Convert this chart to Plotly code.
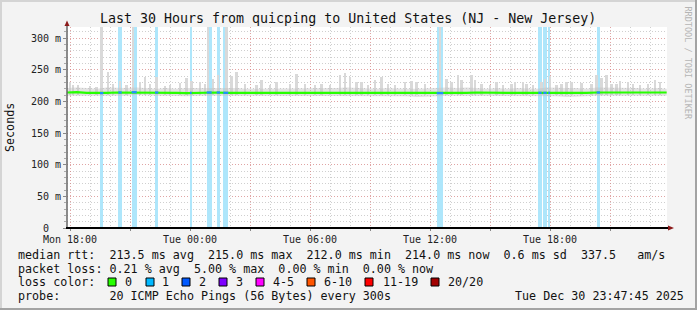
import plotly.graph_objects as go
import pandas as pd

# ---------------- data ----------------
title = "Last 30 Hours from quicping to United States (NJ - New Jersey)"
x_start = "2025-12-29 17:51"
x_end = "2025-12-30 23:51"
y_max = 317.5

y_tickvals = [0, 50, 100, 150, 200, 250, 300]
y_ticktext = ["0\u00a0\u00a0", "50 m", "100 m", "150 m", "200 m", "250 m", "300 m"]

x_tickvals = ["2025-12-29 18:00", "2025-12-29 21:00", "2025-12-30 00:00", "2025-12-30 03:00",
              "2025-12-30 06:00", "2025-12-30 09:00", "2025-12-30 12:00", "2025-12-30 15:00",
              "2025-12-30 18:00", "2025-12-30 21:00"]
x_ticktext = ["Mon 18:00", "", "Tue 00:00", "", "Tue 06:00", "", "Tue 12:00", "", "Tue 18:00", ""]

# median RTT (ms), one reading every 30 minutes from 17:50
median_time = pd.date_range("2025-12-29 17:50", periods=61, freq="30min")
median_rtt = [214, 214.5, 213.5, 213, 213.5, 214, 214, 214.5, 214, 214, 213.5, 213.5, 213,
              213.5, 214, 214, 213.5, 213.5, 213, 213, 213.5, 213.5, 213.5, 213, 213.5, 213.5,
              213.5, 213, 213.5, 213.5, 213.5, 213, 213.5, 213, 213, 212.5, 212.5, 213, 213.5,
              213.5, 213.5, 214, 213.5, 213.5, 213.5, 213.5, 213.5, 213.5, 213.5, 213, 212.5,
              213, 213.5, 214, 214, 214, 214, 213.5, 214, 214, 214]
haze_hi = [221, 222, 221, 220, 222, 221, 221, 222, 221, 220, 221, 220, 221,
           221, 222, 222, 221, 221, 220, 220, 221, 221, 220, 221, 221, 220,
           220, 221, 222, 221, 221, 220, 221, 220, 220, 220, 221, 222, 222,
           221, 222, 221, 220, 221, 220, 221, 221, 220, 222, 221, 221,
           221, 220, 222, 222, 221, 221, 221, 220, 221, 220]
haze_lo = [209, 209, 208, 208, 209, 209, 209, 210, 209, 209, 209, 208, 208,
           209, 209, 209, 209, 208, 208, 209, 209, 209, 208, 208, 209, 209,
           209, 209, 209, 209, 209, 208, 209, 208, 208, 207, 207, 208, 209,
           209, 209, 209, 209, 209, 209, 209, 209, 209, 209, 208, 207,
           208, 209, 209, 209, 209, 209, 209, 209, 209, 209]

# smoke spikes (individual ping maxima, ms)
smoke_floor = 210
smoke_time = ["2025-12-29 18:00", "2025-12-29 18:10", "2025-12-29 18:25", "2025-12-29 19:00",
              "2025-12-29 19:20", "2025-12-29 19:35", "2025-12-29 19:55", "2025-12-29 20:10",
              "2025-12-29 20:30", "2025-12-29 20:50", "2025-12-29 21:10", "2025-12-29 21:30",
              "2025-12-29 21:45", "2025-12-29 22:00", "2025-12-29 22:20", "2025-12-29 22:45",
              "2025-12-29 23:00", "2025-12-29 23:30", "2025-12-29 23:50", "2025-12-30 00:05",
              "2025-12-30 00:30", "2025-12-30 00:45", "2025-12-30 00:55", "2025-12-30 01:10",
              "2025-12-30 01:25", "2025-12-30 01:50", "2025-12-30 02:05", "2025-12-30 02:20",
              "2025-12-30 02:45", "2025-12-30 03:20", "2025-12-30 03:35", "2025-12-30 04:00",
              "2025-12-30 04:20", "2025-12-30 05:00", "2025-12-30 05:20", "2025-12-30 05:45",
              "2025-12-30 06:15", "2025-12-30 06:35", "2025-12-30 07:00", "2025-12-30 07:30",
              "2025-12-30 07:45", "2025-12-30 08:00", "2025-12-30 08:20", "2025-12-30 08:35",
              "2025-12-30 08:55", "2025-12-30 09:15", "2025-12-30 09:35", "2025-12-30 09:55",
              "2025-12-30 10:15", "2025-12-30 10:45", "2025-12-30 11:05", "2025-12-30 11:20",
              "2025-12-30 11:45", "2025-12-30 12:30", "2025-12-30 12:50", "2025-12-30 13:05",
              "2025-12-30 13:25", "2025-12-30 13:35", "2025-12-30 14:05", "2025-12-30 14:15",
              "2025-12-30 14:35", "2025-12-30 15:00", "2025-12-30 15:20", "2025-12-30 15:40",
              "2025-12-30 16:05", "2025-12-30 16:15", "2025-12-30 16:40", "2025-12-30 16:50",
              "2025-12-30 17:10", "2025-12-30 17:35", "2025-12-30 17:45", "2025-12-30 18:00",
              "2025-12-30 18:20", "2025-12-30 18:35", "2025-12-30 18:50", "2025-12-30 19:05",
              "2025-12-30 19:35", "2025-12-30 20:05", "2025-12-30 20:20", "2025-12-30 20:35",
              "2025-12-30 20:50", "2025-12-30 21:05", "2025-12-30 21:20", "2025-12-30 21:30",
              "2025-12-30 21:55", "2025-12-30 22:10", "2025-12-30 22:30", "2025-12-30 22:55",
              "2025-12-30 23:15", "2025-12-30 23:30"]
smoke_top = [230, 226, 226, 224, 222, 317, 246, 228, 232, 226, 317, 230,
             238, 228, 238, 224, 226, 229, 237, 232, 230, 228, 317, 236,
             242, 317, 240, 246, 228, 226, 234, 226, 231, 228, 243, 227,
             226, 228, 226, 242, 245, 238, 230, 231, 226, 234, 238, 228,
             226, 230, 232, 231, 227, 317, 236, 231, 242, 234, 242, 234,
             228, 226, 230, 226, 228, 230, 231, 228, 226, 230, 235, 240,
             226, 228, 230, 230, 229, 228, 241, 237, 242, 228, 228, 232,
             231, 228, 226, 228, 234, 230]

# packet-loss intervals (1 of 20 pings lost)
loss_start = ["2025-12-29 19:30", "2025-12-29 20:25", "2025-12-29 21:05", "2025-12-29 22:15",
              "2025-12-30 00:00", "2025-12-30 00:50", "2025-12-30 01:20", "2025-12-30 01:40",
              "2025-12-30 12:20", "2025-12-30 17:25", "2025-12-30 17:40", "2025-12-30 17:55",
              "2025-12-30 20:20"]
loss_end = ["2025-12-29 19:40", "2025-12-29 20:35", "2025-12-29 21:20", "2025-12-29 22:25",
            "2025-12-30 00:05", "2025-12-30 01:05", "2025-12-30 01:30", "2025-12-30 01:55",
            "2025-12-30 12:40", "2025-12-30 17:35", "2025-12-30 17:50", "2025-12-30 18:00",
            "2025-12-30 20:30"]
loss_median = [213, 214, 214.5, 214, 213.5, 214, 214, 213.5, 213, 213.5, 213.5, 213.5, 214]

loss_labels = ["0", "1", "2", "3", "4-5", "6-10", "11-19", "20/20"]
loss_colors = ["#26ff00", "#00b8ff", "#0059ff", "#7e00ff", "#ff00ff", "#ff5500", "#ff0000", "#a10000"]

legend_rtt = "median rtt:  213.5 ms avg  215.0 ms max  212.0 ms min  214.0 ms now  0.6 ms sd  337.5   am/s"
legend_loss = "packet loss: 0.21 % avg  5.00 % max  0.00 % min  0.00 % now"
legend_probe = "probe:       20 ICMP Echo Pings (56 Bytes) every 300s"
legend_date = "Tue Dec 30 23:47:45 2025"

# ---------------- layout helpers ----------------
W, H = 697, 310
L, R, T, B = 67, 30, 27, 82
PW, PH = W - L - R, H - T - B
MONO = "DejaVu Sans Mono"


def px(x):
    return (x - L) / PW


def py(y):
    return (H - B - y) / PH


fig = go.Figure()

# loss bands (full height)
ls = pd.to_datetime(loss_start)
le = pd.to_datetime(loss_end)
mid = ls + (le - ls) / 2
widths = [(b - a).total_seconds() * 1000 for a, b in zip(ls, le)]
fig.add_trace(go.Bar(x=mid, y=[y_max] * len(mid), width=widths, base=0,
                     marker=dict(color="#aee6fb", line=dict(width=0)), hoverinfo="skip"))

# haze
fig.add_trace(go.Scatter(x=median_time, y=haze_lo, mode="lines", line=dict(width=0),
                         hoverinfo="skip"))
fig.add_trace(go.Scatter(x=median_time, y=haze_hi, mode="lines", line=dict(width=0),
                         fill="tonexty", fillcolor="rgba(190,190,190,0.45)", hoverinfo="skip"))

# smoke spikes
st = pd.to_datetime(smoke_time)
fig.add_trace(go.Bar(x=st, y=[v - smoke_floor for v in smoke_top], base=smoke_floor,
                     width=300000, marker=dict(color="#d9d9d9", line=dict(width=0)),
                     hoverinfo="skip"))

# median line
fig.add_trace(go.Scatter(x=median_time, y=median_rtt, mode="lines",
                         line=dict(color="#26ff00", width=2.2), hoverinfo="skip"))

# median coloured by loss
seg_x, seg_y = [], []
for a, b, m in zip(ls, le, loss_median):
    seg_x += [a, b, None]
    seg_y += [m, m, None]
fig.add_trace(go.Scatter(x=seg_x, y=seg_y, mode="lines",
                         line=dict(color="#1e90ff", width=2.2), hoverinfo="skip"))

grid_minor = "rgba(160,160,160,0.5)"
grid_major = "rgba(245,110,110,0.45)"

fig.update_layout(
    width=W, height=H,
    margin=dict(l=L, r=R, t=T, b=B),
    paper_bgcolor="#f3f3f3", plot_bgcolor="#ffffff",
    showlegend=False, barmode="overlay", bargap=0,
    font=dict(family=MONO, size=10, color="#111"),
    xaxis=dict(type="date", range=[x_start, x_end], tickmode="array",
               tickvals=x_tickvals, ticktext=x_ticktext, showgrid=True,
               gridcolor=grid_major, griddash="1px,2px", gridwidth=1,
               ticks="outside", ticklen=2, tickcolor="#888", showline=False, zeroline=False,
               tickfont=dict(family=MONO, size=10, color="#222"),
               minor=dict(dtick=3600000, tick0="2025-12-29 18:00", showgrid=True,
                          gridcolor=grid_minor, griddash="1px,2px", ticks="")),
    yaxis=dict(range=[0, y_max], tickmode="array", tickvals=y_tickvals, ticktext=y_ticktext,
               showgrid=True, gridcolor=grid_major, griddash="1px,2px", zeroline=False,
               ticks="outside", ticklen=3, tickcolor="#888", showline=False,
               tickfont=dict(family=MONO, size=10, color="#222"),
               minor=dict(dtick=10, tick0=0, showgrid=True, gridcolor=grid_minor,
                          griddash="1px,2px", ticks="outside", ticklen=2, tickcolor="#aaa")),
)

shapes = []
# axis lines
shapes.append(dict(type="line", xref="paper", yref="paper", x0=px(67), x1=px(67),
                   y0=py(228), y1=py(24), line=dict(color="#666", width=1.5)))
shapes.append(dict(type="line", xref="paper", yref="paper", x0=px(66), x1=px(669),
                   y0=py(228), y1=py(228), line=dict(color="#000", width=2)))
# arrows
shapes.append(dict(type="path", xref="paper", yref="paper",
                   path=f"M {px(64.5)} {py(26)} L {px(69.5)} {py(26)} L {px(67)} {py(20.5)} Z",
                   fillcolor="#8b1a1a", line=dict(width=0)))
shapes.append(dict(type="path", xref="paper", yref="paper",
                   path=f"M {px(668)} {py(225.5)} L {px(668)} {py(230.5)} L {px(674)} {py(228)} Z",
                   fillcolor="#8b1a1a", line=dict(width=0)))
# frame of the image
shapes.append(dict(type="rect", xref="paper", yref="paper", x0=px(0), x1=px(2), y0=py(310), y1=py(0),
                   fillcolor="#d4d4d4", line=dict(width=0), layer="below"))
shapes.append(dict(type="rect", xref="paper", yref="paper", x0=px(0), x1=px(697), y0=py(2), y1=py(0),
                   fillcolor="#d4d4d4", line=dict(width=0), layer="below"))
shapes.append(dict(type="rect", xref="paper", yref="paper", x0=px(695), x1=px(697), y0=py(310), y1=py(0),
                   fillcolor="#a3a3a3", line=dict(width=0), layer="below"))
shapes.append(dict(type="rect", xref="paper", yref="paper", x0=px(0), x1=px(697), y0=py(310), y1=py(308),
                   fillcolor="#a3a3a3", line=dict(width=0), layer="below"))

# loss colour legend boxes
box_x = [108, 146, 182, 219, 256, 307, 365, 431]
label_x = [123, 160, 197, 234, 271, 322, 381, 446]
for bx, c in zip(box_x, loss_colors):
    shapes.append(dict(type="rect", xref="paper", yref="paper", x0=px(bx), x1=px(bx + 8),
                       y0=py(286), y1=py(278), fillcolor=c, line=dict(color="#000", width=1)))

annotations = []


def txt(x, y, s, size=11.7, color="#111", xanchor="left", yanchor="middle", angle=0):
    annotations.append(dict(x=px(x), y=py(y), xref="paper", yref="paper", text=s.replace(" ", "\u00a0"),
                            showarrow=False, xanchor=xanchor, yanchor=yanchor, textangle=angle,
                            font=dict(family=MONO, size=size, color=color)))


txt(348, 19, title, size=13.3, color="#111", xanchor="center")
txt(10, 128, "Seconds", size=11.7, xanchor="center", angle=-90)
txt(687, 4, "RRDTOOL / TOBI OETIKER", size=8.5, color="#b5b5b5", xanchor="center", yanchor="top", angle=90)
txt(16, 255, legend_rtt)
txt(16, 268.5, legend_loss)
txt(16, 282, "loss color:")
for lx, lab in zip(label_x, loss_labels):
    txt(lx, 282, lab)
txt(16, 296, legend_probe)
txt(513, 296, legend_date)

fig.update_layout(shapes=shapes, annotations=annotations)
fig.write_html("out.html")
